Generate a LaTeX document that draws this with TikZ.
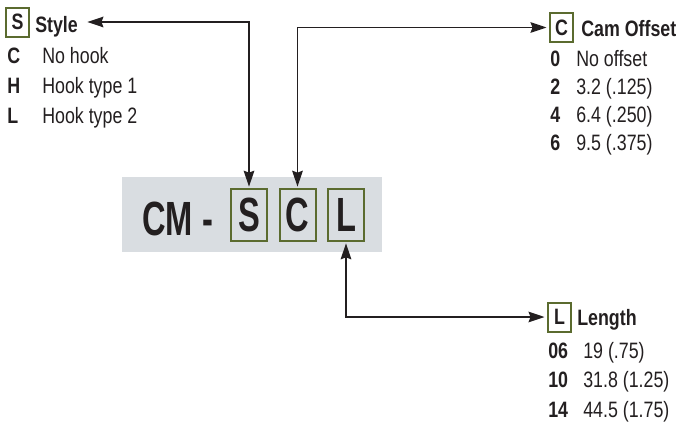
\documentclass[tikz,border=0pt]{standalone}
\usepackage{fontspec}
\usepackage{xcolor}
\setmainfont{Liberation Sans}[FakeStretch=0.8]
\newfontfamily\codefont{Liberation Sans}[FakeStretch=0.68]
\usetikzlibrary{arrows.meta}

\definecolor{olivebox}{HTML}{5B6B2F}
\definecolor{bandgray}{HTML}{D9DDE1}
\definecolor{ink}{HTML}{231F20}

\tikzset{
  keybox/.style={draw=olivebox, line width=1.5pt, minimum width=17pt, minimum height=21.75pt, inner sep=0pt, text=ink, font=\bfseries\fontsize{16.7}{18}\selectfont},
  bigbox/.style={draw=olivebox, line width=1.5pt, minimum width=27pt, minimum height=39pt, inner sep=0pt, text=ink, font=\codefont\bfseries\fontsize{36}{40}\selectfont},
  head/.style={anchor=base west, inner sep=0pt, text=ink, font=\bfseries\fontsize{16.7}{18}\selectfont},
  code/.style={anchor=base west, inner sep=0pt, text=ink, font=\bfseries\fontsize{16.7}{18}\selectfont},
  desc/.style={anchor=base west, inner sep=0pt, text=ink, font=\fontsize{16.7}{18}\selectfont},
  link/.style={{Stealth[length=12pt,width=8pt,inset=1.5pt]}-{Stealth[length=12pt,width=8pt,inset=1.5pt]}, line width=1pt, draw=ink}
}

\begin{document}
\begin{tikzpicture}[x=0.75pt, y=-0.75pt]
  \useasboundingbox (0,0) rectangle (678,422);

  % part number
  \fill[bandgray] (122,177) rectangle (382,252);
  \node[anchor=base west, inner sep=0pt, text=ink, font=\codefont\bfseries\fontsize{36}{40}\selectfont] (prefix) at (142,235) {CM -};
  \node[bigbox] (mainS) at (249,215) {S};
  \node[bigbox] (mainC) at (297.5,215) {C};
  \node[bigbox] (mainL) at (346,215) {L};

  % style
  \node[keybox] (stylekey) at (17.5,22) {S};
  \node[head] (stylehead) at (35,32) {Style};
  \node[code] (styleC) at (7,63) {C};
  \node[desc] (styleCtxt) at (42,63) {No hook};
  \node[code] (styleH) at (7,93) {H};
  \node[desc] (styleHtxt) at (42,93) {Hook type 1};
  \node[code] (styleL) at (7,123) {L};
  \node[desc] (styleLtxt) at (42,123) {Hook type 2};

  % cam offset
  \node[keybox] (camkey) at (561.5,27.5) {C};
  \node[head] (camhead) at (581,36) {Cam Offset};
  \node[code] (cam0) at (550,66) {0};
  \node[desc] (cam0txt) at (576,66) {No offset};
  \node[code] (cam2) at (550,94) {2};
  \node[desc] (cam2txt) at (576,94) {3.2 (.125)};
  \node[code] (cam4) at (550,122) {4};
  \node[desc] (cam4txt) at (576,122) {6.4 (.250)};
  \node[code] (cam6) at (550,150) {6};
  \node[desc] (cam6txt) at (576,150) {9.5 (.375)};

  % length
  \node[keybox] (lenkey) at (559.5,317) {L};
  \node[head] (lenhead) at (577,325) {Length};
  \node[code] (len06) at (548,358) {06};
  \node[desc] (len06txt) at (583,358) {19 (.75)};
  \node[code] (len10) at (548,387) {10};
  \node[desc] (len10txt) at (583,387) {31.8 (1.25)};
  \node[code] (len14) at (548,417) {14};
  \node[desc] (len14txt) at (583,417) {44.5 (1.75)};

  % connectors
  \draw[link, shorten <=7pt, shorten >=1pt] (stylehead.east |- stylekey) -| (mainS.north);
  \draw[link, shorten <=1pt, shorten >=2pt] (mainC.north) |- (camkey.west);
  \draw[link, shorten <=1pt, shorten >=2pt] (mainL.south) |- (lenkey.west);
\end{tikzpicture}
\end{document}
